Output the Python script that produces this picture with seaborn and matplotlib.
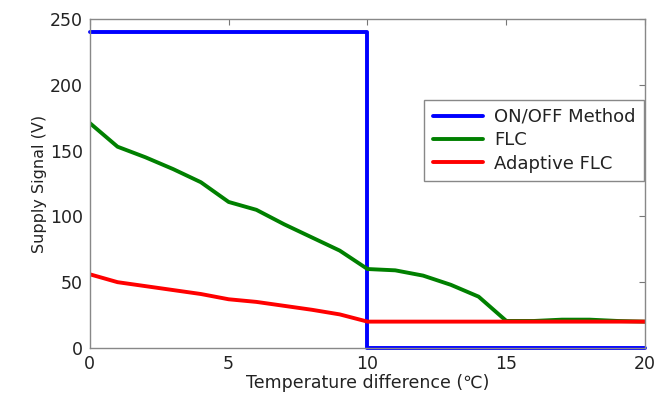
import matplotlib
matplotlib.use("Agg")
import matplotlib.pyplot as plt
import seaborn as sns
import pandas as pd

# data
temp_diff = list(range(0, 21))
flc = [171, 153, 145, 136, 126, 111, 105, 94, 84, 74, 60, 59, 55, 48, 39, 20.5, 20.5, 21.5, 21.5, 20.5, 20]
adaptive_flc = [56, 50, 47, 44, 41, 37, 35, 32, 29, 25.5, 20, 20, 20, 20, 20, 20, 20, 20, 20, 20, 20]
onoff_x = [0, 10, 10, 20]
onoff_y = [240, 240, 0, 0]

sns.set_style("white")
plt.rcParams['font.family'] = ['DejaVu Sans']

fig = plt.figure(figsize=(6.7, 3.99), dpi=100)
ax = fig.add_axes([0.134, 0.128, 0.829, 0.824])

sns.lineplot(x=onoff_x, y=onoff_y, sort=False, estimator=None, color=(0, 0, 1),
             linewidth=2.8, label="ON/OFF Method", ax=ax, clip_on=False)
sns.lineplot(x=temp_diff, y=flc, color=(0, 0.5, 0), linewidth=2.8, label="FLC", ax=ax)
sns.lineplot(x=temp_diff, y=adaptive_flc, color=(1, 0, 0), linewidth=2.8,
             label="Adaptive FLC", ax=ax)

ax.set_xlim(0, 20)
ax.set_ylim(0, 250)
ax.set_xticks([0, 5, 10, 15, 20])
ax.set_yticks([0, 50, 100, 150, 200, 250])
ax.tick_params(direction="in", length=4, color="#777777", labelsize=12.5,
               top=True, right=True, labelcolor="#222222", pad=5)
for s in ax.spines.values():
    s.set_color("#888888")
    s.set_linewidth(1.0)

ax.set_xlabel("Temperature difference (℃)", fontsize=12.5, labelpad=1, color="#222222")
ax.set_ylabel("Supply Signal (V)", fontsize=11.5, labelpad=2, color="#222222")

leg = ax.legend(loc="upper right", bbox_to_anchor=(0.997, 0.755), borderaxespad=0,
                fontsize=13, fancybox=False, framealpha=1, edgecolor="#888888",
                handlelength=2.8, labelspacing=0.3, borderpad=0.45, handletextpad=0.6)
for t in leg.get_texts():
    t.set_color("#222222")

fig.savefig("out.png", dpi=100)
